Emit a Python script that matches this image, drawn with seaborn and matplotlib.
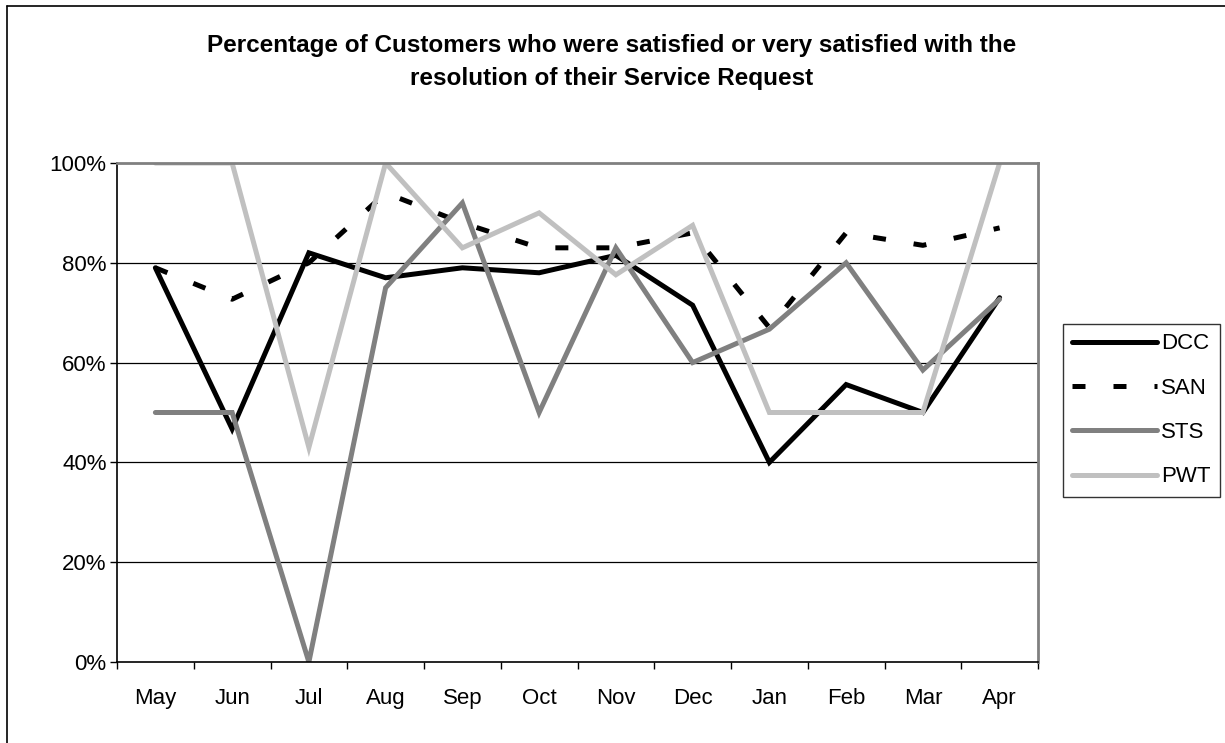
import matplotlib
matplotlib.use("Agg")
import matplotlib.pyplot as plt
from matplotlib.lines import Line2D
from matplotlib.ticker import FixedLocator, PercentFormatter
import numpy as np
import pandas as pd
import seaborn as sns

# Monthly satisfaction (share of customers satisfied or very satisfied)
months = ["May", "Jun", "Jul", "Aug", "Sep", "Oct", "Nov", "Dec", "Jan", "Feb", "Mar", "Apr"]
dcc = [0.79, 0.467, 0.82, 0.77, 0.79, 0.78, 0.815, 0.715, 0.40, 0.556, 0.50, 0.73]
san = [0.79, 0.727, 0.80, 0.94, 0.88, 0.83, 0.83, 0.86, 0.67, 0.86, 0.835, 0.87]
sts = [0.50, 0.50, 0.00, 0.75, 0.92, 0.50, 0.83, 0.60, 0.667, 0.80, 0.585, 0.727]
pwt = [1.00, 1.00, 0.43, 1.00, 0.83, 0.90, 0.776, 0.875, 0.50, 0.50, 0.50, 1.00]

series_names = ["DCC", "SAN", "STS", "PWT"]
series_values = [dcc, san, sts, pwt]
series_colors = ["#000000", "#000000", "#808080", "#c0c0c0"]

title = ("Percentage of Customers who were satisfied or very satisfied with the\n"
         "resolution of their Service Request")

sns.set_theme(style="white")
plt.rcParams["font.family"] = ["Liberation Sans", "DejaVu Sans"]
plt.rcParams["text.color"] = "black"

W, H = 1225, 743
fig = plt.figure(figsize=(W / 100, H / 100), dpi=100)
fig.patch.set_facecolor("white")

left, right, top, bottom = 117, 1038, 163, 662
ax = fig.add_axes([left / W, 1 - bottom / H, (right - left) / W, (bottom - top) / H])

lw = 3.6
for name, vals, col in zip(series_names, series_values, series_colors):
    df = pd.DataFrame({"month": months, "value": vals})
    df["pos"] = np.arange(len(months))
    sns.lineplot(data=df, x="pos", y="value", ax=ax, color=col, lw=lw,
                 sort=False, label=name, legend=False)

lines = ax.get_lines()
for ln in lines:
    ln.set_solid_capstyle("round")
    ln.set_solid_joinstyle("miter")
# dashed style for SAN
san_line = lines[1]
san_line.set_dashes((2.6, 5.6))
san_line.set_dash_capstyle("butt")

ax.set_xlim(-0.5, len(months) - 0.5)
ax.set_ylim(0, 1)
ax.yaxis.set_major_locator(FixedLocator([0, 0.2, 0.4, 0.6, 0.8, 1.0]))
ax.yaxis.set_major_formatter(PercentFormatter(1.0, decimals=0))
ax.set_xticks(np.arange(len(months)))
ax.set_xticklabels(months)
ax.set_xticks(np.arange(len(months) + 1) - 0.5, minor=True)
ax.tick_params(axis="x", which="major", length=0, pad=19, labelsize=16, colors="black")
ax.tick_params(axis="x", which="minor", length=5, width=1, color="black", direction="out", bottom=True)
ax.tick_params(axis="y", which="major", length=5, width=1, color="black", direction="out",
               left=True, pad=2.5, labelsize=16, labelcolor="black")
ax.set_xlabel("")
ax.set_ylabel("")

# horizontal gridlines
for yv in [0.2, 0.4, 0.6, 0.8]:
    ax.axhline(yv, color="black", lw=0.9, zorder=0)

for side in ["left", "bottom"]:
    ax.spines[side].set_color("black")
    ax.spines[side].set_linewidth(1.2)
for side in ["top", "right"]:
    ax.spines[side].set_color("#808080")
    ax.spines[side].set_linewidth(2)
for s in ax.spines.values():
    s.set_visible(True)

fig.text(612 / W, 1 - 62 / H, title, ha="center", va="center", fontsize=17.5,
         fontweight="bold", linespacing=1.55, color="black")

# legend
handles = []
for name, col in zip(series_names, series_colors):
    h = Line2D([], [], color=col, lw=lw, solid_capstyle="round")
    if name == "SAN":
        h.set_dashes((2.6, 5.6))
        h.set_dash_capstyle("butt")
    handles.append(h)
leg = fig.legend(handles, series_names, loc="upper left",
                 bbox_to_anchor=(1063 / W, 1 - 324 / H), bbox_transform=fig.transFigure,
                 fontsize=16, frameon=True, fancybox=False, handlelength=3.8,
                 handletextpad=0.2, labelspacing=1.05, borderpad=0.42, borderaxespad=0)
leg.get_frame().set_edgecolor("black")
leg.get_frame().set_linewidth(1)
for t in leg.get_texts():
    t.set_color("black")

# outer chart border (top and left edges visible)
fig.add_artist(Line2D([7 / W, 7 / W], [0, 1 - 6 / H], transform=fig.transFigure, color="black", lw=1.2))
fig.add_artist(Line2D([7 / W, 1], [1 - 6 / H, 1 - 6 / H], transform=fig.transFigure, color="black", lw=1.2))

fig.savefig("out.png", dpi=100, facecolor="white")
